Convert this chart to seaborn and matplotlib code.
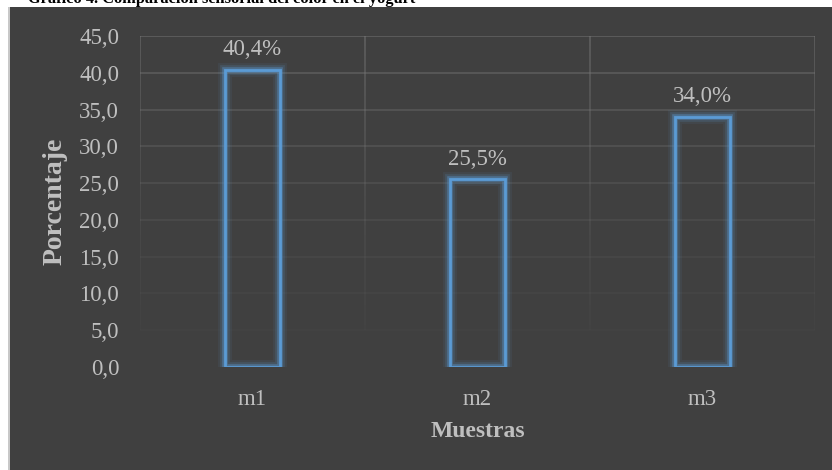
import numpy as np
import pandas as pd
import matplotlib
matplotlib.use("Agg")
import matplotlib.pyplot as plt
import matplotlib.patheffects as pe
from matplotlib.collections import LineCollection
from matplotlib.patches import Rectangle
from matplotlib.ticker import FuncFormatter, MultipleLocator
import seaborn as sns

muestras = ["m1", "m2", "m3"]
porcentajes = [40.4, 25.5, 34.0]

titulo = "Gráfico 4. Comparación sensorial del color en el yogurt"
eje_x = "Muestras"
eje_y = "Porcentaje"

BG = "#404040"
TXT = "#bfbfbf"
BLUE = "#5b9bd5"

sns.set_theme(style="white")
plt.rcParams["font.family"] = ["Liberation Serif", "DejaVu Serif"]

fig = plt.figure(figsize=(8.32, 4.70), dpi=100, facecolor="white")

# dark chart area below the caption strip
fig.patches.append(Rectangle((8 / 832, 0), 1 - 8 / 832, 1 - 7 / 470,
                             transform=fig.transFigure, facecolor=BG,
                             edgecolor="none", zorder=-2))
fig.patches.append(Rectangle((8 / 832, 0), 1.5 / 832, 1 - 7 / 470,
                             transform=fig.transFigure, facecolor="#c8c8c8",
                             edgecolor="none", zorder=-1))

# caption, partially cut by the top edge
fig.text(28 / 832, 1 + 1 / 470, titulo, ha="left", va="center",
         fontsize=11.8, fontweight="bold", color="black", zorder=-1)

ax = fig.add_axes([140 / 832, 1 - 367 / 470, 675 / 832, 331 / 470])
ax.set_facecolor(BG)
ax.patch.set_alpha(0)

df = pd.DataFrame({"muestra": muestras, "porcentaje": porcentajes})
sns.barplot(data=df, x="muestra", y="porcentaje", ax=ax, width=0.245,
            fill=False, color=BLUE, linewidth=2, zorder=3)

glow = [pe.Stroke(linewidth=10, foreground=BLUE, alpha=0.08),
        pe.Stroke(linewidth=7, foreground=BLUE, alpha=0.16),
        pe.Stroke(linewidth=4, foreground=BLUE, alpha=0.40),
        pe.Normal()]
for bar in ax.patches:
    bar.set_edgecolor(BLUE)
    bar.set_facecolor("none")
    bar.set_path_effects(glow)

ax.set_xlim(-0.5, len(muestras) - 0.5)
ax.set_ylim(0, 45)
ax.yaxis.set_major_locator(MultipleLocator(5))
ax.yaxis.set_major_formatter(FuncFormatter(lambda v, p: f"{v:.1f}".replace(".", ",")))

# gridlines fading towards the baseline
for v in np.arange(5, 46, 5):
    a = 0.04 + 0.5 * (v / 45) ** 1.5
    ax.axhline(v, color="#7a7a7a", linewidth=1.2, alpha=a, zorder=1)

ys = np.linspace(5, 45, 60)
for xb in np.arange(-0.5, len(muestras), 1.0):
    pts = np.array([[xb, y] for y in ys])
    segs = np.stack([pts[:-1], pts[1:]], axis=1)
    alphas = 0.04 + 0.5 * (ys[1:] / 45) ** 1.5
    cols = [(0.48, 0.48, 0.48, a) for a in alphas]
    ax.add_collection(LineCollection(segs, colors=cols, linewidths=1.2, zorder=1))

for i, v in enumerate(porcentajes):
    ax.annotate(f"{v:.1f}%".replace(".", ","), (i, v), xytext=(0, 7),
                textcoords="offset points", ha="center", va="bottom",
                fontsize=16.5, color=TXT)

for s in ax.spines.values():
    s.set_visible(False)
ax.tick_params(axis="both", length=0, labelsize=16.5, labelcolor=TXT)
ax.tick_params(axis="x", pad=16)
ax.tick_params(axis="y", pad=15)
ax.set_xlabel(eje_x, fontsize=17, fontweight="bold", color=TXT, labelpad=8)
ax.set_ylabel(eje_y, fontsize=20, fontweight="bold", color=TXT, labelpad=8)
ax.grid(False)

fig.savefig("out.png", dpi=100, facecolor="white")
